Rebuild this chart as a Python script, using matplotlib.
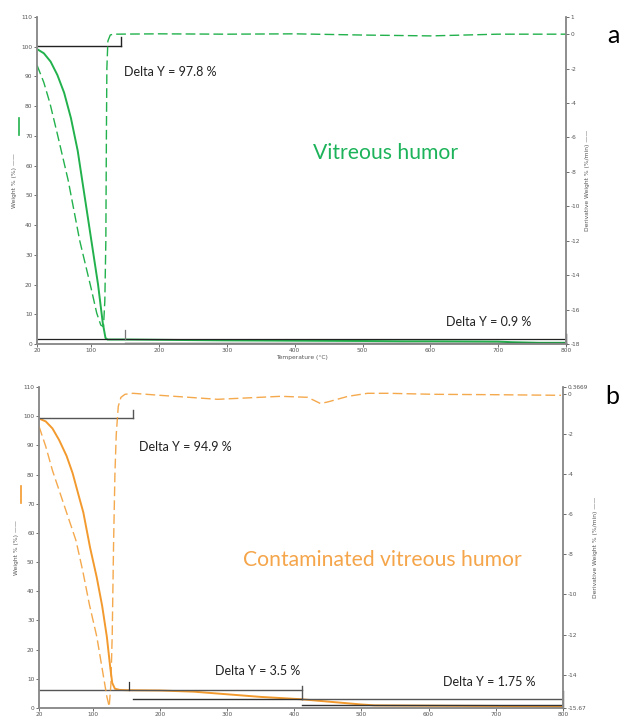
import matplotlib
matplotlib.use('Agg')
import matplotlib.pyplot as plt

plt.rcParams['axes.unicode_minus'] = False

# ---- panel a : vitreous humor ----
temp_w_a = [20, 30, 40, 50, 60, 70, 80, 90, 100, 110, 117, 121, 124, 150, 200, 300, 400, 500, 560, 600, 700, 720, 760, 800]
weight_a = [99.2, 97.8, 95.0, 90.5, 84.5, 76.0, 65.0, 50.0, 35.0, 20.0, 7.0, 2.0, 1.5, 1.5, 1.4, 1.2, 1.1, 1.0, 0.9, 0.9, 0.8, 0.6, 0.4, 0.4]
temp_d_a = [20, 30, 39, 50, 66, 83, 100, 108, 114, 118, 120, 121.5, 122.3, 123, 124.5, 128, 132, 200, 300, 400, 500, 600, 650, 700, 800]
deriv_a = [-1.8, -2.8, -4.0, -5.8, -8.5, -12.0, -14.8, -16.2, -16.9, -17.0, -15.5, -12.0, -6.0, -2.0, -0.4, -0.05, 0.0, 0.02, 0.0, 0.02, -0.05, -0.1, -0.05, 0.0, 0.0]

# ---- panel b : contaminated vitreous humor ----
temp_w_b = [20, 30, 40, 50, 61, 70, 80, 86, 96, 106, 114, 121, 126, 129, 133, 140, 150, 200, 250, 300, 350, 410, 450, 500, 520, 600, 700, 760, 800]
weight_b = [99.2, 98.2, 95.8, 91.8, 86.4, 80.5, 72.0, 67.0, 55.0, 44.7, 35.0, 24.4, 14.0, 8.6, 6.6, 6.2, 6.1, 6.0, 5.6, 4.7, 3.8, 3.0, 2.2, 1.2, 0.9, 0.8, 0.7, 0.6, 0.5]
temp_d_b = [20, 30, 40, 51, 63, 75, 85, 95, 106, 114, 121, 124.5, 127, 129, 131, 133, 135, 138, 142, 148, 160, 200, 286, 380, 420, 439, 450, 480, 509, 540, 608, 700, 797]
deriv_b = [-1.6, -2.6, -3.8, -4.9, -6.1, -7.3, -8.8, -10.5, -12.1, -13.7, -15.1, -15.6, -14.5, -12.0, -7.5, -4.0, -2.0, -0.6, -0.15, 0.0, 0.05, -0.05, -0.25, -0.1, -0.15, -0.46, -0.38, -0.1, 0.05, 0.05, 0.0, -0.02, -0.05]

x_ticks = [20, 100, 200, 300, 400, 500, 600, 700, 800]
y_ticks = list(range(0, 111, 10))
d_ticks_a = [1, 0, -2, -4, -6, -8, -10, -12, -14, -16, -18]
d_ticks_b = [0.3669, 0, -2, -4, -6, -8, -10, -12, -14, -15.67]
d_labels_b = ['0.3669', '0', '-2', '-4', '-6', '-8', '-10', '-12', '-14', '-15.67']

green = '#22b14c'
orange = '#f39a2e'
tick_col = '#555555'
spine_col = '#8a8a8a'
FONT = 'Lato'

fig = plt.figure(figsize=(6.21, 7.19), dpi=100)


def style_axes(ax, ax2, ylabel_col):
    for a in (ax, ax2):
        a.spines['top'].set_visible(False)
        for s in ('left', 'right', 'bottom'):
            a.spines[s].set_color(spine_col)
            a.spines[s].set_linewidth(1.1)
        a.tick_params(labelsize=4.2, colors=tick_col, length=2, width=0.6, pad=1.2)
    ax.set_xlim(20, 800)
    ax.set_ylim(0, 110)
    ax.set_xticks(x_ticks)
    ax.set_yticks(y_ticks)
    ax.set_ylabel('Weight % (%) ——', fontsize=4.3, color=tick_col, labelpad=3)
    ax2.set_ylabel('Derivative Weight % (%/min) ——', fontsize=4.3, color=tick_col, labelpad=4)
    # colour swatch above the left axis label
    ax.plot([-0.034, -0.034], [0.64, 0.69], color=ylabel_col, lw=1.2,
            transform=ax.transAxes, clip_on=False)


# ---------------- panel a ----------------
ax = fig.add_axes([0.0596, 0.5216, 0.8518, 0.4548])
ax2 = ax.twinx()
ax.plot(temp_w_a, weight_a, color=green, lw=1.4)
ax2.plot(temp_d_a, deriv_a, color=green, lw=1.0, ls=(0, (7, 3)))
ax2.set_ylim(-18, 1)
ax2.set_yticks(d_ticks_a)
style_axes(ax, ax2, green)
ax.set_xlabel('Temperature (°C)', fontsize=4.3, color=tick_col, labelpad=1.5)

k = '#222222'
ax.plot([20, 143.5], [100.3, 100.3], color=k, lw=1.0)
ax.plot([143.5, 143.5], [100.3, 103.4], color=k, lw=1.0)
ax.plot([20, 800], [1.7, 1.7], color=k, lw=0.9)
ax.plot([150, 150], [1.7, 4.7], color='#777777', lw=0.9)
ax.plot([150, 800], [0.2, 0.2], color=k, lw=1.0, clip_on=False)
ax.plot([800, 800], [0, 3.4], color=k, lw=1.0, clip_on=False)
ax.text(148, 91.5, 'Delta Y = 97.8 %', fontsize=9, family=FONT, ha='left', va='center', color='#222222')
ax.text(623, 7.4, 'Delta Y = 0.9 %', fontsize=9, family=FONT, ha='left', va='center', color='#222222')
ax.text(427, 64.3, 'Vitreous humor', fontsize=15.2, family=FONT, ha='left', va='center', color='#1db35a')
fig.text(0.997, 0.951, 'a', fontsize=18, family=FONT, ha='right', va='center')

# ---------------- panel b ----------------
bx = fig.add_axes([0.0628, 0.0153, 0.8438, 0.4465])
bx2 = bx.twinx()
bx.plot(temp_w_b, weight_b, color=orange, lw=1.4)
bx2.plot(temp_d_b, deriv_b, color=orange, lw=1.0, ls=(0, (7, 3)), alpha=0.85)
bx2.set_ylim(-15.67, 0.3669)
bx2.set_yticks(d_ticks_b)
bx2.set_yticklabels(d_labels_b)
style_axes(bx, bx2, orange)

g = '#555555'
bx.plot([20, 160], [99.2, 99.2], color=g, lw=1.0)
bx.plot([160, 160], [99.2, 102.2], color=g, lw=1.0)
bx.plot([20, 412], [6.1, 6.1], color=g, lw=1.0)
bx.plot([154, 154], [6.1, 8.8], color='#333333', lw=0.9)
bx.plot([412, 412], [3.0, 7.4], color=g, lw=1.0)
bx.plot([160, 412], [3.0, 3.0], color='#333333', lw=1.0)
bx.plot([412, 800], [3.0, 3.0], color=g, lw=1.0)
bx.plot([412, 800], [0.9, 0.9], color='#333333', lw=1.0)
bx.plot([800, 800], [0, 5.8], color=g, lw=1.0, clip_on=False)
bx.text(169, 89.4, 'Delta Y = 94.9 %', fontsize=9, family=FONT, ha='left', va='center', color='#222222')
bx.text(282, 12.8, 'Delta Y = 3.5 %', fontsize=9, family=FONT, ha='left', va='center', color='#222222')
bx.text(621, 9.0, 'Delta Y = 1.75 %', fontsize=9, family=FONT, ha='left', va='center', color='#222222')
bx.text(324, 50.8, 'Contaminated vitreous humor', fontsize=15.2, family=FONT, ha='left', va='center', color='#f5a54a')
fig.text(0.997, 0.448, 'b', fontsize=18, family=FONT, ha='right', va='center')

fig.savefig('out.png', dpi=100)
